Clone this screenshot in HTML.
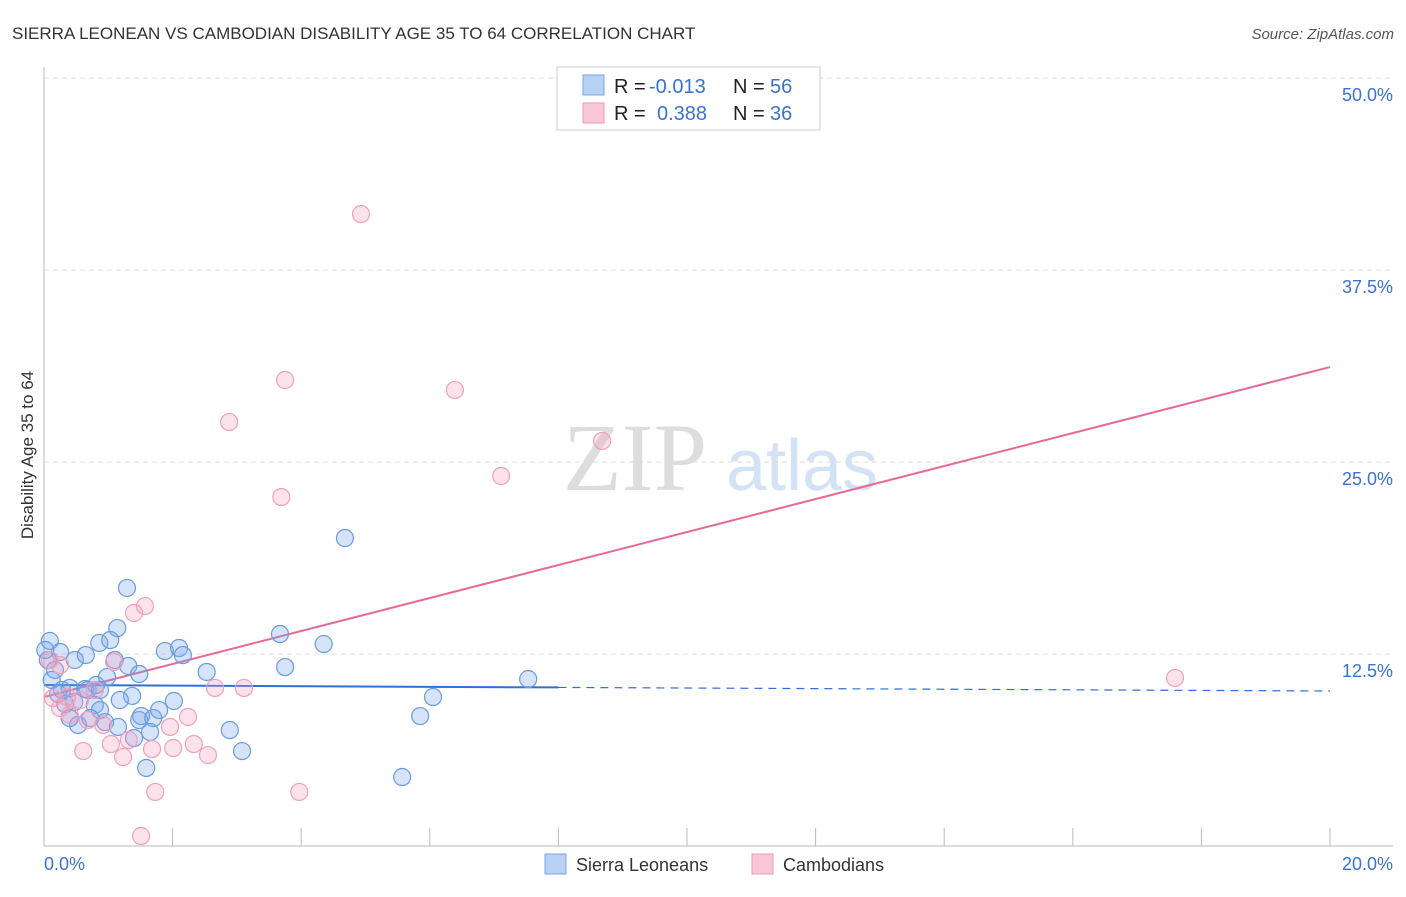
<!DOCTYPE html>
<html><head><meta charset="utf-8"><style>
body{margin:0;background:#fff;font-family:"Liberation Sans",sans-serif;}
svg text{font-family:"Liberation Sans",sans-serif;}
</style></head><body>
<svg id="chart" width="1406" height="892" viewBox="0 0 1406 892">
<text x="12" y="39" font-size="17" fill="#333">SIERRA LEONEAN VS CAMBODIAN DISABILITY AGE 35 TO 64 CORRELATION CHART</text>
<text x="1394" y="39" font-size="15" fill="#555" text-anchor="end" font-style="italic">Source: ZipAtlas.com</text>
<text x="33" y="455" font-size="17" fill="#333" text-anchor="middle" transform="rotate(-90 33 455)">Disability Age 35 to 64</text>
<g>
<text x="635" y="490" font-size="96" fill="#ddd" font-family="Liberation Serif" text-anchor="middle" style="font-family:'Liberation Serif',serif">ZIP</text>
<text x="802" y="490" font-size="72" fill="#d4e2f5" text-anchor="middle">atlas</text>
</g>
<g id="grid"></g><g id="axes"></g><g id="lines"></g><g id="pts"></g>
<g>
<rect x="557" y="67" width="263" height="63" fill="#fff" stroke="#ccc"/>
<rect x="583" y="75" width="21" height="20" fill="#b8d2f4" stroke="#7aa6e4"/>
<rect x="583" y="103" width="21" height="20" fill="#f9c6d6" stroke="#ef9ab6"/>
<text x="614" y="93" font-size="20" fill="#222">R = </text><text x="649" y="93" font-size="20" fill="#3a72d2">-0.013</text>
<text x="733" y="93" font-size="20" fill="#222">N = </text><text x="770" y="93" font-size="20" fill="#3a72d2">56</text>
<text x="614" y="120" font-size="20" fill="#222">R = </text><text x="657" y="120" font-size="20" fill="#3a72d2">0.388</text>
<text x="733" y="120" font-size="20" fill="#222">N = </text><text x="770" y="120" font-size="20" fill="#3a72d2">36</text>
</g>
<g>
<rect x="545" y="854" width="21" height="20" fill="#b8d2f4" stroke="#7aa6e4"/>
<text x="576" y="871" font-size="18" fill="#333">Sierra Leoneans</text>
<rect x="752" y="854" width="21" height="20" fill="#f9c6d6" stroke="#ef9ab6"/>
<text x="783" y="871" font-size="18" fill="#333">Cambodians</text>
</g>
</svg>
<script>
const yTicks=[12.5,25,37.5,50];
const yTickLabels=["12.5%","25.0%","37.5%","50.0%"];
const xTicks=[0,2,4,6,8,10,12,14,16,18,20];
const blueX=[0.09,0.25,0.06,0.17,0.12,0.28,0.40,0.48,0.65,0.68,0.81,0.86,1.03,1.14,1.29,0.98,1.10,1.31,1.48,1.37,0.79,0.87,0.40,0.53,0.72,0.95,1.15,1.48,1.51,1.70,1.79,2.02,1.65,1.40,1.59,1.88,2.10,2.16,2.53,2.89,3.08,3.67,3.75,4.35,4.68,5.57,5.85,6.05,7.53,0.47,0.64,0.33,0.22,1.18,0.02,0.87];
const blueY=[13.35,12.63,12.11,11.46,10.81,10.16,10.29,12.11,12.43,10.16,10.48,13.22,13.41,14.19,16.80,11.00,12.11,11.72,11.20,9.77,9.18,8.85,8.33,7.88,8.33,8.07,7.75,8.20,8.46,8.33,8.85,9.44,7.42,7.03,5.08,12.69,12.89,12.43,11.33,7.55,6.18,13.80,11.65,13.15,20.05,4.49,8.46,9.70,10.87,9.37,10.22,9.24,9.90,9.50,12.76,10.16];
const pinkX=[4.93,3.75,6.39,2.88,8.68,7.11,3.69,1.57,1.40,1.09,17.59,2.66,3.11,0.09,0.14,0.25,0.40,0.79,0.61,1.04,1.23,1.32,1.68,1.96,2.01,2.24,2.33,2.55,1.73,3.97,1.51,0.68,0.92,0.36,0.25,0.56];
const pinkY=[41.14,30.34,29.69,27.60,26.37,24.09,22.72,15.62,15.17,11.98,10.94,10.29,10.29,12.11,9.63,8.98,8.53,10.16,6.18,6.64,5.79,6.90,6.31,7.75,6.38,8.40,6.64,5.92,3.52,3.52,0.65,8.20,7.88,9.70,11.78,9.50];
const blueTrend=[10.48,10.09];
const pinkTrend=[9.70,31.18];
const NS="http://www.w3.org/2000/svg";
const X0=44,X1=1330,Y0=846,PPY=192/12.5;
function sx(v){return X0+(v/20)*(X1-X0);}
function sy(v){return Y0-v*PPY;}
function mk(tag,attrs,parent){const e=document.createElementNS(NS,tag);for(const k in attrs)e.setAttribute(k,attrs[k]);document.getElementById(parent).appendChild(e);return e;}
yTicks.forEach((t,i)=>{
 const l=mk('line',{x1:X0,x2:1393,y1:sy(t),y2:sy(t),stroke:'#ddd','stroke-dasharray':'5,4'},'grid');
 
 
 const tx=mk('text',{x:1393,y:sy(t)+23,'font-size':18,fill:'#3a72d2','text-anchor':'end'},'grid');
 tx.textContent=yTickLabels[i];
 
 
});
const ya=mk('line',{x1:X0,x2:X0,y1:67,y2:Y0,stroke:'#bbb'},'axes');


const xa=mk('line',{x1:X0,x2:1393,y1:Y0,y2:Y0,stroke:'#bbb'},'axes');


xTicks.forEach(t=>{
 const l=mk('line',{x1:sx(t),x2:sx(t),y1:828,y2:Y0,stroke:'#bbb'},'axes');
 
 
});
const xl0=mk('text',{x:44,y:870,'font-size':18,fill:'#3a72d2'},'axes');xl0.textContent='0.0%';


const xl1=mk('text',{x:1393,y:870,'font-size':18,fill:'#3a72d2','text-anchor':'end'},'axes');xl1.textContent='20.0%';


function dot(x,y,fill,stroke,name){
 const c=mk('circle',{cx:sx(x),cy:sy(y),r:8.5,fill:fill,stroke:stroke,'stroke-width':1.2},'pts');
 
 
}
blueX.forEach((x,i)=>dot(x,blueY[i],'rgba(120,165,235,0.3)','#6a9be0','sierra-leonean-point'));
pinkX.forEach((x,i)=>dot(x,pinkY[i],'rgba(245,160,190,0.3)','#f0a0bb','cambodian-point'));
const bSplit=8;
const bMid=blueTrend[0]+(blueTrend[1]-blueTrend[0])*bSplit/20;
const b1=mk('line',{x1:sx(0),y1:sy(blueTrend[0]),x2:sx(bSplit),y2:sy(bMid),stroke:'#2f6fd6','stroke-width':2},'lines');


const b2=mk('line',{x1:sx(bSplit),y1:sy(bMid),x2:sx(20),y2:sy(blueTrend[1]),stroke:'#2f6fd6','stroke-width':1.2,'stroke-dasharray':'8,6'},'lines');


const p1=mk('line',{x1:sx(0),y1:sy(pinkTrend[0]),x2:sx(20),y2:sy(pinkTrend[1]),stroke:'#e8689a','stroke-width':2},'lines');


</script>
</body></html>
